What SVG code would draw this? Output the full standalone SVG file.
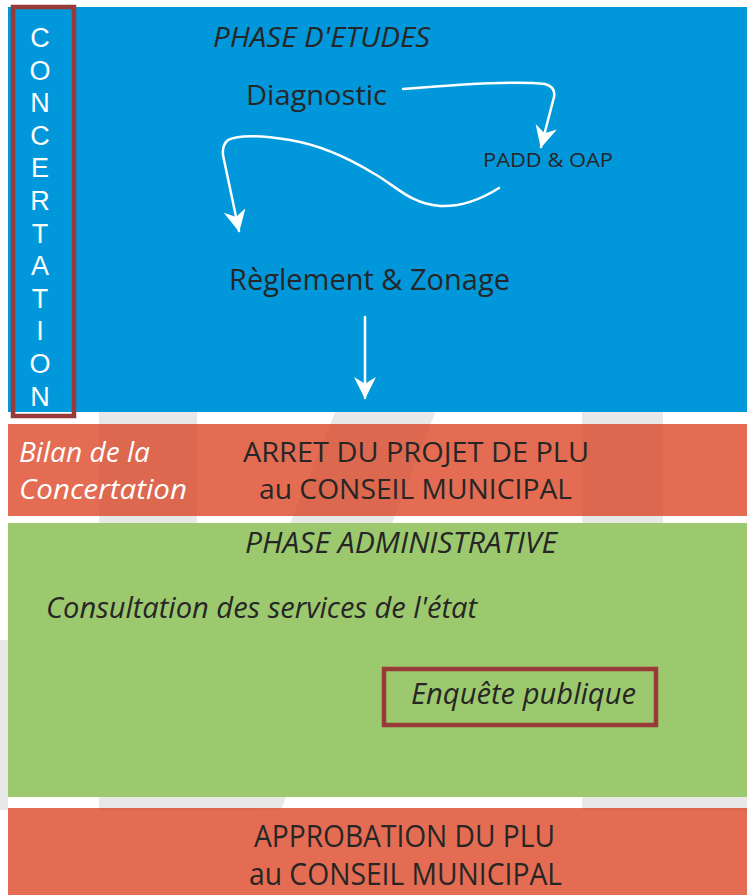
<svg xmlns="http://www.w3.org/2000/svg" width="747" height="895" viewBox="0 0 747 895">
<style>
.t{font-family:"Open Sans","Liberation Sans",sans-serif;fill:#262626}
.v{font-family:"Liberation Sans","DejaVu Sans",sans-serif;fill:#ffffff}
.i{font-style:italic}
.w{fill:#ffffff}
.conn{fill:none;stroke:#ffffff;stroke-width:2.5;stroke-linecap:round}
.frame{fill:none;stroke:#973A38;stroke-width:4.5}
.wm{fill:#e8e8e8}
.wmd{fill:#000000;opacity:0.035}
</style>
<defs>
<marker id="head" viewBox="0 0 20 20" markerWidth="22" markerHeight="22" refX="19" refY="10" orient="auto" markerUnits="userSpaceOnUse">
<path d="M0,0 L20,10 L0,20 L6,10 z" fill="#ffffff"/>
</marker>
<clipPath id="redclip">
<rect x="8" y="424" width="739" height="92"/>
<rect x="8" y="808" width="739" height="87"/>
</clipPath>
<g id="wmshapes">
<rect x="99" y="405" width="98" height="405"/>
<polygon points="336,410 436,410 281,810 174,810"/>
<rect x="582" y="405" width="81" height="405"/>
<rect x="600" y="790" width="147" height="20"/>
<polygon points="0,640 10,640 8,810 0,810"/>
</g>
</defs>
<rect x="0" y="0" width="747" height="895" fill="#ffffff"/>
<g id="watermark">
<use href="#wmshapes" class="wm"/>
</g>
<g id="phase-etudes-band">
<rect x="8" y="7" width="739" height="405" fill="#0098DA"/>
</g>
<g id="arret-band">
<rect x="8" y="424" width="739" height="92" fill="#E46C52"/>
</g>
<g id="phase-admin-band">
<rect x="8" y="523" width="739" height="274" fill="#9DC96E"/>
</g>
<g id="approbation-band">
<rect x="8" y="808" width="739" height="87" fill="#E46C52"/>
</g>
<g id="watermark-overlay" clip-path="url(#redclip)">
<use href="#wmshapes" class="wmd"/>
</g>
<g id="concertation">
<rect x="13" y="7" width="61" height="409" class="frame"/>
<text class="v" font-size="27" text-anchor="middle"><tspan x="40" y="47">C</tspan><tspan x="40" dy="32.6">O</tspan><tspan x="40" dy="32.6">N</tspan><tspan x="40" dy="32.6">C</tspan><tspan x="40" dy="32.6">E</tspan><tspan x="40" dy="32.6">R</tspan><tspan x="40" dy="32.6">T</tspan><tspan x="40" dy="32.6">A</tspan><tspan x="40" dy="32.6">T</tspan><tspan x="40" dy="32.6">I</tspan><tspan x="40" dy="32.6">O</tspan><tspan x="40" dy="32.6">N</tspan></text>
</g>
<g id="phase-etudes">
<text class="t i" x="213" y="47" font-size="28" textLength="217" lengthAdjust="spacingAndGlyphs">PHASE D'ETUDES</text>
</g>
<g id="diagnostic">
<text class="t" x="246" y="105" font-size="28" textLength="141" lengthAdjust="spacingAndGlyphs">Diagnostic</text>
</g>
<g id="padd-oap">
<text class="t" x="483" y="167" font-size="20" textLength="130" lengthAdjust="spacingAndGlyphs">PADD &amp; OAP</text>
</g>
<g id="reglement-zonage">
<text class="t" x="229" y="290" font-size="30" textLength="281" lengthAdjust="spacingAndGlyphs">Règlement &amp; Zonage</text>
</g>
<g id="bilan">
<text class="t i w" x="19" y="462" font-size="27" textLength="131" lengthAdjust="spacingAndGlyphs">Bilan de la</text>
<text class="t i w" x="19" y="499" font-size="27" textLength="168" lengthAdjust="spacingAndGlyphs">Concertation</text>
</g>
<g id="arret">
<text class="t" x="243" y="462" font-size="27" textLength="346" lengthAdjust="spacingAndGlyphs">ARRET DU PROJET DE PLU</text>
<text class="t" x="259" y="499" font-size="27" textLength="313" lengthAdjust="spacingAndGlyphs">au CONSEIL MUNICIPAL</text>
</g>
<g id="phase-admin">
<text class="t i" x="245" y="553" font-size="29" textLength="312" lengthAdjust="spacingAndGlyphs">PHASE ADMINISTRATIVE</text>
</g>
<g id="consultation">
<text class="t i" x="46" y="618" font-size="29" textLength="431" lengthAdjust="spacingAndGlyphs">Consultation des services de l'état</text>
</g>
<g id="enquete">
<rect x="384" y="669" width="272" height="56" class="frame"/>
<text class="t i" x="411" y="704" font-size="30" textLength="225" lengthAdjust="spacingAndGlyphs">Enquête publique</text>
</g>
<g id="approbation">
<text class="t" x="254" y="847" font-size="31" textLength="301" lengthAdjust="spacingAndGlyphs">APPROBATION DU PLU</text>
<text class="t" x="249" y="885" font-size="31" textLength="313" lengthAdjust="spacingAndGlyphs">au CONSEIL MUNICIPAL</text>
</g>
<g id="connectors">
<path class="conn" d="M403,89 C450,85 515,80 545,84 Q556,87 554,97 L541,147" marker-end="url(#head)"/>
<path class="conn" d="M499,188 C480,200 460,207 440,206 C410,204 395,185 373,173 C345,156 320,145 290,140 C265,136 240,134 228,140 Q222,145 223,155 L239,231" marker-end="url(#head)"/>
<path class="conn" stroke-width="2" d="M365,317 L365,398" marker-end="url(#head)"/>
</g>
</svg>
